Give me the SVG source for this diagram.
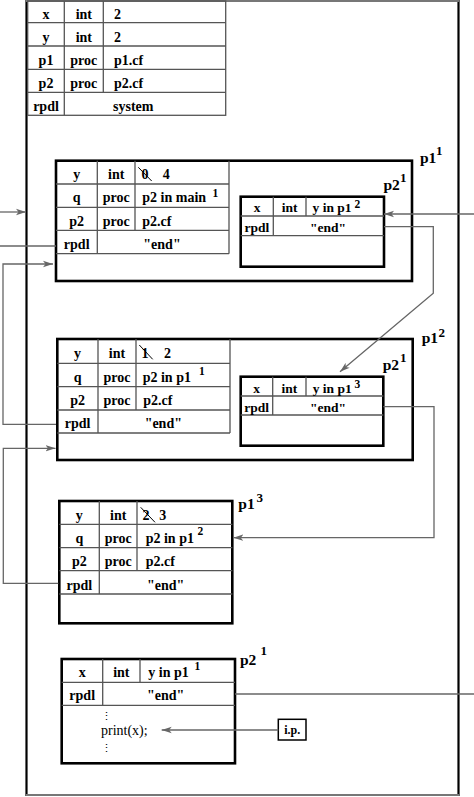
<svg xmlns="http://www.w3.org/2000/svg" width="474" height="797" viewBox="0 0 474 797">
<defs>
<style>
.t{font-family:"Liberation Serif","Times New Roman",serif;font-weight:bold;font-size:14px;fill:#000}
.s{font-size:13.5px}
.sup{font-family:"Liberation Serif","Times New Roman",serif;font-weight:bold;font-size:11.5px;fill:#000}
.lbl{font-family:"Liberation Serif","Times New Roman",serif;font-weight:bold;font-size:15.5px;fill:#000}
.lsup{font-family:"Liberation Serif","Times New Roman",serif;font-weight:bold;font-size:13px;fill:#000}
.r{font-family:"Liberation Serif","Times New Roman",serif;font-size:14px;fill:#000}
.m{text-anchor:middle}
.box{fill:none;stroke:#000;stroke-width:2.6}
.grid{fill:none;stroke:#555;stroke-width:1.3}
.conn{fill:none;stroke:#666;stroke-width:1.3}
.strike{stroke:#000;stroke-width:1}
.dots{font-family:"DejaVu Serif",serif;font-size:11px;fill:#000;text-anchor:middle}
</style>
<marker id="ah" markerUnits="userSpaceOnUse" markerWidth="11" markerHeight="8" refX="10" refY="4" orient="auto">
<path d="M0,0.8 L10,4 L0,7.2 L2.5,4 z" fill="#666"/>
</marker>
</defs>
<rect width="474" height="797" fill="#fff"/>

<g id="main-frame">
<line x1="26.5" y1="0" x2="26.5" y2="796" stroke="#000" stroke-width="2.2"/>
<line x1="458.5" y1="0" x2="458.5" y2="796" stroke="#000" stroke-width="2.2"/>
<line x1="26" y1="1" x2="459" y2="1" stroke="#777" stroke-width="2"/>
<line x1="26" y1="795" x2="459" y2="795" stroke="#777" stroke-width="2"/>
</g>

<g id="main-table">
<rect class="grid" x="27.7" y="1" width="198" height="114.3"/>
<path class="grid" d="M27.7,22.7H225.7M27.7,46H225.7M27.7,69.3H225.7M27.7,92.3H225.7M64.3,1V115.3M103.3,1V92.3"/>
<text class="t m" x="46" y="18.5">x</text>
<text class="t m" x="83.8" y="18.5">int</text>
<text class="t" x="114" y="18.5">2</text>
<text class="t m" x="46" y="41.5">y</text>
<text class="t m" x="83.8" y="41.5">int</text>
<text class="t" x="114" y="41.5">2</text>
<text class="t m" x="46" y="64.5">p1</text>
<text class="t m" x="83.8" y="64.5">proc</text>
<text class="t" x="114" y="64.5">p1.cf</text>
<text class="t m" x="46" y="87.5">p2</text>
<text class="t m" x="83.8" y="87.5">proc</text>
<text class="t" x="114" y="87.5">p2.cf</text>
<text class="t m" x="46" y="110.5">rpdl</text>
<text class="t" x="113" y="110.5">system</text>
</g>

<g id="p1-1">
<rect class="box" x="56" y="160.7" width="356" height="120.3"/>
<path class="grid" d="M56,184H229M56,207.3H229M56,230.3H229M56,253.7H229M229,160.7V253.7M97.3,160.7V253.7M135,160.7V230.3"/>
<text class="t m" x="76.7" y="179">y</text>
<text class="t m" x="116.2" y="179">int</text>
<text class="t" x="141.5" y="179">0</text>
<line class="strike" x1="138.3" y1="167.3" x2="151.7" y2="181"/>
<text class="t" x="162.7" y="179">4</text>
<text class="t m" x="76.7" y="202.3">q</text>
<text class="t m" x="116.2" y="202.3">proc</text>
<text class="t" x="142.3" y="202.3">p2 in main</text>
<text class="sup" x="212.5" y="196.5">1</text>
<text class="t m" x="76.7" y="225.5">p2</text>
<text class="t m" x="116.2" y="225.5">proc</text>
<text class="t" x="142.3" y="225.5">p2.cf</text>
<text class="t m" x="76.7" y="248.7">rpdl</text>
<text class="t m" x="162" y="248.7">"end"</text>
<text class="lbl" x="420" y="163">p1</text>
<text class="lsup" x="436" y="155">1</text>
</g>

<g id="p2-1-in-p1-1">
<rect class="box" x="240.7" y="196.7" width="143.3" height="70"/>
<path class="grid" d="M240.7,216H384M240.7,235.7H384M273.3,196.7V235.7M306,196.7V216"/>
<text class="t s m" x="257" y="212">x</text>
<text class="t s m" x="289.7" y="212">int</text>
<text class="t s" x="312.5" y="212">y in p1</text>
<text class="sup" x="354.5" y="207.5">2</text>
<text class="t s m" x="257" y="231.5">rpdl</text>
<text class="t s m" x="328" y="231.5">"end"</text>
<text class="lbl" x="383.5" y="190">p2</text>
<text class="lsup" x="400" y="181.5">1</text>
</g>

<g id="p1-2">
<rect class="box" x="57.3" y="339" width="355.4" height="121"/>
<path class="grid" d="M57.3,363.3H230M57.3,386.7H230M57.3,410H230M57.3,433H230M230,339V433M98,339V433M136,339V410"/>
<text class="t m" x="77.6" y="358">y</text>
<text class="t m" x="117" y="358">int</text>
<text class="t" x="141.5" y="358">1</text>
<line class="strike" x1="139.3" y1="345" x2="152.7" y2="359.3"/>
<text class="t" x="164" y="358">2</text>
<text class="t m" x="77.6" y="381.5">q</text>
<text class="t m" x="117" y="381.5">proc</text>
<text class="t" x="142.7" y="381.5">p2 in p1</text>
<text class="sup" x="199" y="375">1</text>
<text class="t m" x="77.6" y="405">p2</text>
<text class="t m" x="117" y="405">proc</text>
<text class="t" x="143.3" y="405">p2.cf</text>
<text class="t m" x="77.6" y="428">rpdl</text>
<text class="t m" x="163.3" y="428">"end"</text>
<text class="lbl" x="421.7" y="343.3">p1</text>
<text class="lsup" x="438.5" y="336.5">2</text>
</g>

<g id="p2-1-in-p1-2">
<rect class="box" x="240.7" y="376.7" width="142.6" height="69"/>
<path class="grid" d="M240.7,396H383.3M240.7,415H383.3M272.7,376.7V415M306,376.7V396"/>
<text class="t s m" x="256.7" y="392.5">x</text>
<text class="t s m" x="289.3" y="392.5">int</text>
<text class="t s" x="312.7" y="392.5">y in p1</text>
<text class="sup" x="354.5" y="387.5">3</text>
<text class="t s m" x="256.7" y="411.5">rpdl</text>
<text class="t s m" x="328" y="411.5">"end"</text>
<text class="lbl" x="382.7" y="370">p2</text>
<text class="lsup" x="400" y="361.5">1</text>
</g>

<g id="p1-3">
<rect class="box" x="59.3" y="501" width="173" height="122.3"/>
<path class="grid" d="M59.3,524.3H232.3M59.3,547.7H232.3M59.3,570.7H232.3M59.3,594H232.3M99.3,501V594M137,501V570.7"/>
<text class="t m" x="79.3" y="519.5">y</text>
<text class="t m" x="118.2" y="519.5">int</text>
<text class="t" x="142.5" y="519.5">2</text>
<line class="strike" x1="140.7" y1="507.3" x2="155" y2="522.3"/>
<text class="t" x="159.3" y="519.5">3</text>
<text class="t m" x="79.3" y="543">q</text>
<text class="t m" x="118.2" y="543">proc</text>
<text class="t" x="145.7" y="543">p2 in p1</text>
<text class="sup" x="197.5" y="535">2</text>
<text class="t m" x="79.3" y="566">p2</text>
<text class="t m" x="118.2" y="566">proc</text>
<text class="t" x="145.7" y="566">p2.cf</text>
<text class="t m" x="79.3" y="589.5">rpdl</text>
<text class="t m" x="165.7" y="589.5">"end"</text>
<text class="lbl" x="238.3" y="509.3">p1</text>
<text class="lsup" x="256.5" y="501.5">3</text>
</g>

<g id="p2-1">
<rect class="box" x="61.7" y="659" width="173.3" height="104.3"/>
<path class="grid" d="M61.7,682.3H235M61.7,705.3H235M102.7,659V705.3M140,659V682.3"/>
<text class="t m" x="82.2" y="677">x</text>
<text class="t m" x="121.3" y="677">int</text>
<text class="t" x="148.3" y="677">y in p1</text>
<text class="sup" x="194.5" y="670">1</text>
<text class="t m" x="82.2" y="700">rpdl</text>
<text class="t m" x="165.7" y="700">"end"</text>
<text class="dots" x="106" y="720">⋮</text>
<text class="r" x="101" y="735">print(x);</text>
<text class="dots" x="106" y="752">⋮</text>
<text class="lbl" x="240" y="665">p2</text>
<text class="lsup" x="260.5" y="655">1</text>
</g>

<g id="ip">
<rect x="278.3" y="719.3" width="27.7" height="20.7" fill="#fff" stroke="#000" stroke-width="1.5"/>
<text class="t m" style="font-size:12px" x="292.2" y="734">i.p.</text>
</g>

<g id="connectors">
<path class="conn" d="M0,212H26" marker-end="url(#ah)"/>
<path class="conn" d="M0,246H56"/>
<path class="conn" d="M474,214H384" marker-end="url(#ah)"/>
<path class="conn" d="M384,226.7H433.3V293.3L340,371.7" marker-end="url(#ah)"/>
<path class="conn" d="M56,424.3H3V264H53" marker-end="url(#ah)"/>
<path class="conn" d="M383.3,406.7H434V537.7H233.3" marker-end="url(#ah)"/>
<path class="conn" d="M58.3,583.3H3.3V448.3H55.5" marker-end="url(#ah)"/>
<path class="conn" d="M235,694H474"/>
<path class="conn" d="M278.3,730H161.7" marker-end="url(#ah)"/>
</g>
</svg>
